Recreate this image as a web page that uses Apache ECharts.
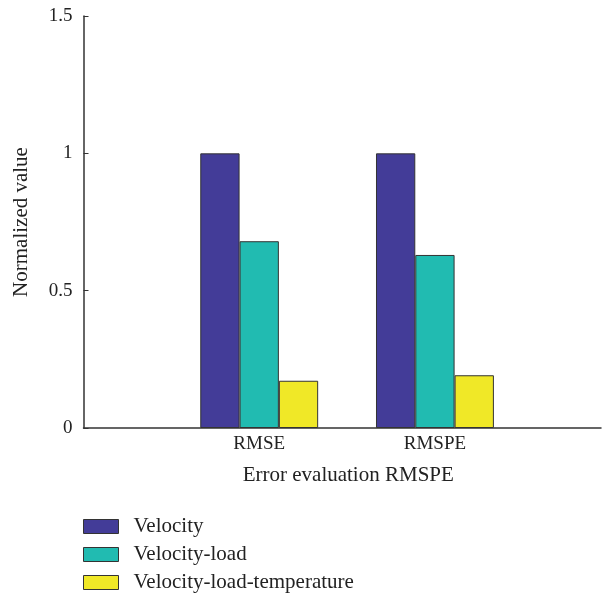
<!DOCTYPE html>
<html>
<head>
<meta charset="utf-8">
<script src="https://cdn.jsdelivr.net/npm/echarts@6/dist/echarts.min.js"></script>
<style>
html,body{margin:0;padding:0;background:#fff;}
#main{width:603px;height:599px;}
</style>
</head>
<body>
<div id="main"></div>
<script>
// 误差指标
var categories = ['RMSE', 'RMSPE'];
var seriesNames = ['Velocity', 'Velocity-load', 'Velocity-load-temperature'];
var velocity = [1.0, 1.0];
var velocityLoad = [0.68, 0.63];
var velocityLoadTemp = [0.172, 0.192];
var yTicks = [0, 0.5, 1, 1.5];

var colors = ['#433c98', '#21bbb1', '#f0e827'];
var font = 'Liberation Serif';

function toPoints(values){
    return values.map(function(v, i){ return [i + 1, v]; });
}

var seriesData = [velocity, velocityLoad, velocityLoadTemp];
var series = seriesData.map(function(vals, i){
    return {
        name: seriesNames[i],
        type: 'bar',
        data: toPoints(vals),
        barWidth: 39.3,
        barGap: '0%',
        itemStyle: {
            color: colors[i],
            borderColor: '#333333',
            borderWidth: 1
        }
    };
});

var myChart = echarts.init(document.getElementById('main'));
var option = {
    backgroundColor: '#ffffff',
    animation: false,
    textStyle: {fontFamily: font},
    grid: {left: 83.5, right: 2, top: 16, bottom: 171},
    legend: {
        orient: 'vertical',
        left: 83,
        top: 516,
        height: 90,
        padding: 0,
        icon: 'rect',
        itemWidth: 35,
        itemHeight: 14,
        itemGap: 7,
        textStyle: {fontFamily: font, fontSize: 21, color: '#222', padding: [0, 0, 0, 10]},
        itemStyle: {borderColor: '#333333', borderWidth: 1},
        data: seriesNames
    },
    xAxis: {
        type: 'value',
        min: 0,
        max: 2.945,
        interval: 1,
        name: 'Error evaluation RMSPE',
        nameLocation: 'middle',
        nameGap: 37,
        nameTextStyle: {fontFamily: font, fontSize: 21, color: '#222', padding: [0, 0, 0, 12]},
        splitLine: {show: false},
        axisLine: {lineStyle: {color: '#333', width: 1.5}},
        axisTick: {inside: true, length: 5, customValues: [1, 2], lineStyle: {color: '#333'}},
        axisLabel: {
            fontFamily: font, fontSize: 19, color: '#222', margin: 7,
            customValues: [1, 2],
            formatter: function(v){
                return categories[v - 1] || '';
            }
        }
    },
    yAxis: {
        type: 'value',
        min: yTicks[0],
        max: yTicks[yTicks.length - 1],
        interval: 0.5,
        name: 'Normalized value',
        nameLocation: 'middle',
        nameGap: 52,
        nameTextStyle: {fontFamily: font, fontSize: 21, color: '#222'},
        splitLine: {show: false},
        axisLine: {show: true, lineStyle: {color: '#333', width: 1.5}},
        axisTick: {show: true, inside: true, length: 5, lineStyle: {color: '#333'}},
        axisLabel: {fontFamily: font, fontSize: 19, color: '#222', margin: 11}
    },
    series: series
};
myChart.setOption(option);
</script>
</body>
</html>
